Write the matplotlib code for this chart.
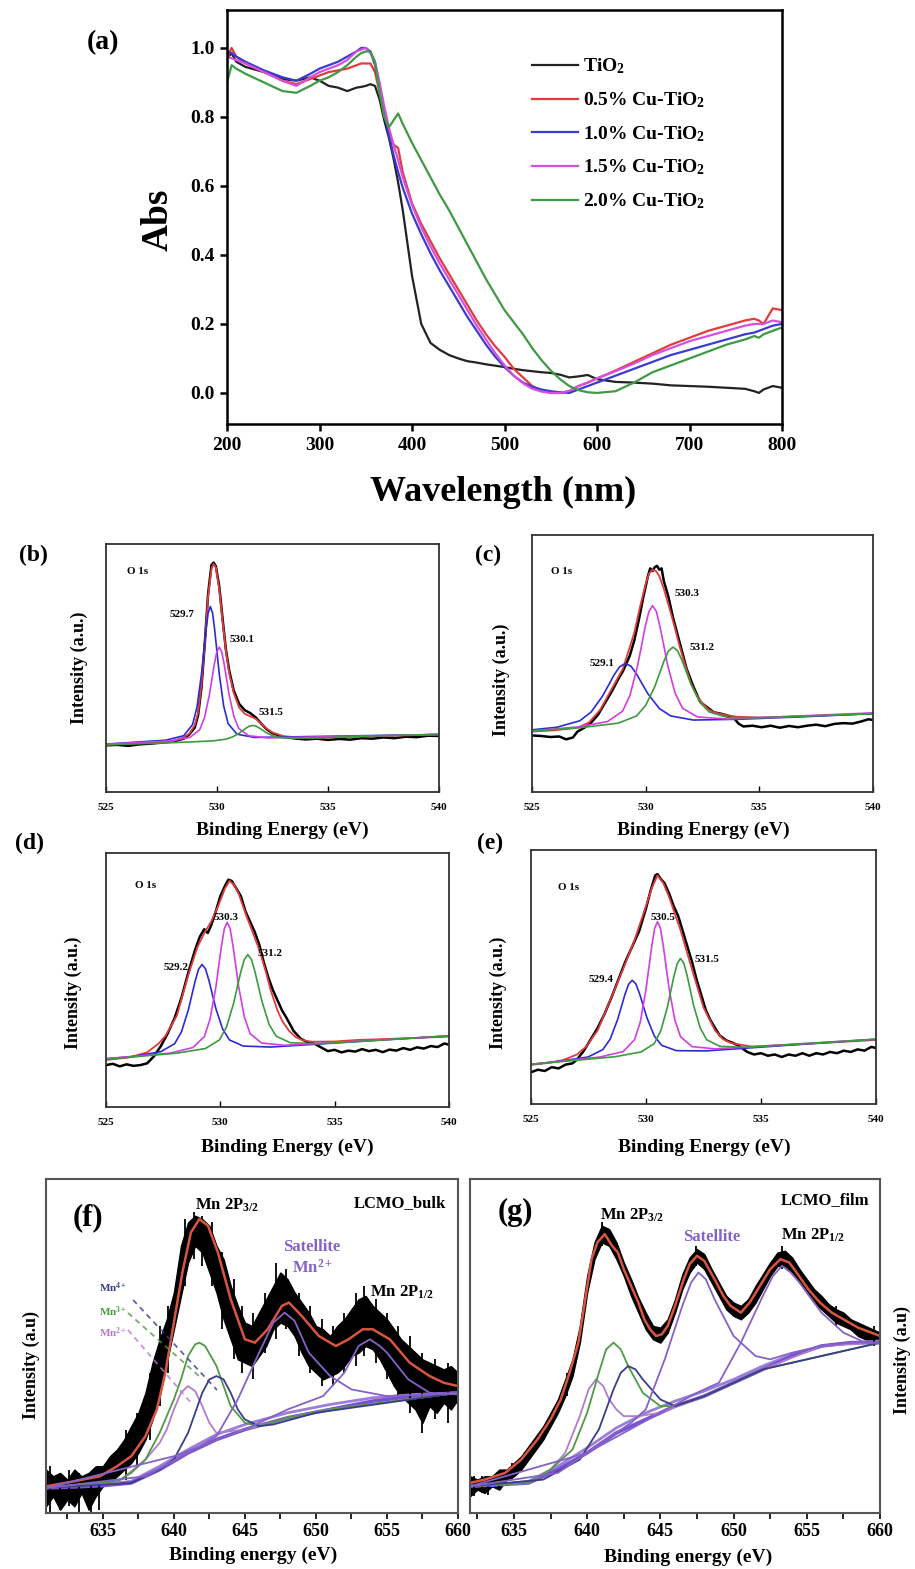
"""
Composite figure: UV-vis absorbance of Cu-TiO2 (a), O 1s XPS fits (b-e),
Mn 2p XPS fits for LCMO bulk / film (f, g). Writes out.png (915x1569).
"""
import numpy as np, matplotlib
matplotlib.use("Agg")
import matplotlib.pyplot as plt
from matplotlib.ticker import MultipleLocator, FormatStrFormatter

W, H = 915, 1569
plt.rcParams.update({
    "font.family": "Liberation Serif", "font.weight": "bold",
    "mathtext.fontset": "custom", "mathtext.rm": "Liberation Serif:bold",
    "mathtext.bf": "Liberation Serif:bold", "mathtext.it": "Liberation Serif:bold:italic",
})
RED, BLUE, MAG, GRN = "#e23b3b", "#2b2bd6", "#d23fe0", "#3d9a3d"
PURP, SAT, MN2, MN3, MN4, FRED = "#7a4fd0", "#8462c8", "#b27ccc", "#4f9a45", "#3a3d8c", "#d9553f"

# ---------------- (a) UV-vis ----------------
wl = [200, 205, 210, 220, 240, 260, 275, 290, 300, 310,
      320, 330, 340, 345, 350, 355, 360, 365, 370, 375,
      380, 385, 390, 400, 410, 420, 430, 440, 450, 460,
      470, 480, 490, 500, 510, 520, 530, 540, 550, 560,
      570, 580, 590, 600, 620, 640, 660, 680, 700, 720,
      740, 760, 770, 775, 780, 790, 800]
abs_tio2 = [.97, .985, .96, .945, .93, .91, .905, .915, .905, .89,
            .885, .875, .885, .887, .89, .895, .89, .85, .79, .74,
            .68, .61, .53, .34, .20, .145, .125, .11, .10, .092,
            .088, .083, .079, .075, .07, .066, .063, .06, .058, .053,
            .045, .048, .052, .04, .032, .03, .027, .022, .02, .018,
            .015, .012, .005, .0, .01, .02, .015]
abs_cu05 = [.97, 1.0, .975, .955, .93, .905, .895, .91, .92, .93,
            .935, .94, .95, .955, .955, .955, .93, .87, .81, .76,
            .72, .71, .64, .55, .49, .44, .39, .345, .30, .255,
            .21, .17, .135, .105, .07, .045, .02, .006, .0, .0,
            .005, .02, .03, .042, .065, .09, .115, .14, .16, .18,
            .195, .21, .215, .21, .2, .245, .24]
abs_cu10 = [.99, .985, .975, .96, .935, .915, .905, .925, .94, .95,
            .96, .975, .99, 1.0, 1.0, .99, .95, .88, .81, .75,
            .69, .64, .595, .52, .46, .405, .355, .31, .265, .22,
            .18, .14, .105, .075, .05, .03, .018, .01, .005, .002,
            .0, .01, .02, .03, .05, .07, .09, .11, .125, .14,
            .155, .17, .175, .18, .185, .195, .20]
abs_cu15 = [.975, .97, .965, .955, .93, .905, .89, .915, .93, .94,
            .95, .965, .99, .995, 1.0, .985, .96, .90, .83, .77,
            .72, .675, .625, .545, .48, .425, .375, .33, .285, .24,
            .195, .155, .115, .08, .05, .028, .012, .004, .0, .0,
            .006, .02, .03, .042, .063, .085, .11, .13, .15, .165,
            .18, .195, .20, .20, .20, .21, .205]
abs_cu20 = [.90, .95, .94, .925, .90, .875, .87, .89, .905, .915,
            .93, .95, .975, .985, .99, .99, .96, .87, .80, .77,
            .79, .81, .78, .725, .675, .625, .575, .53, .48, .43,
            .38, .33, .285, .24, .205, .17, .13, .095, .065, .04,
            .02, .008, .002, .0, .005, .03, .06, .08, .10, .12,
            .14, .155, .165, .16, .17, .18, .19]
uv_labels = ["TiO$_2$", "0.5% Cu-TiO$_2$", "1.0% Cu-TiO$_2$", "1.5% Cu-TiO$_2$", "2.0% Cu-TiO$_2$"]

# ---------------- (b)-(e) O 1s: (x, y) per curve, y in panel units ----------------
b_red_x = [525, 526, 527, 527.5, 528, 528.5, 528.75, 529, 529.15, 529.3, 529.45, 529.6, 529.75, 529.85, 529.95, 530.1,
           530.25, 530.4, 530.55, 530.75, 531, 531.25, 531.5, 531.75, 532, 532.25, 532.5, 533, 534, 536, 538, 540]
b_red_y = [.19, .195, .199, .201, .205, .22, .235, .27, .32, .43, .6, .79, .9, .92, .905, .82,
           .69, .57, .48, .40, .34, .315, .305, .295, .275, .255, .24, .225, .218, .222, .227, .232]
b_blk_x = [525, 525.5, 526, 526.5, 527, 527.5, 528, 528.5, 528.75, 529, 529.15, 529.3, 529.45, 529.6, 529.75, 529.85,
           529.95, 530.1, 530.25, 530.4, 530.55, 530.75, 531, 531.25, 531.5, 531.75, 532, 532.25, 532.5, 533, 533.5,
           534, 534.5, 535, 535.5, 536, 536.5, 537, 537.5, 538, 538.5, 539, 539.5, 540]
b_blk_y = [.188, .19, .186, .192, .195, .199, .203, .215, .232, .26, .31, .42, .6, .8, .915, .925,
           .91, .83, .70, .575, .49, .41, .355, .33, .318, .30, .275, .252, .237, .222, .216,
           .212, .215, .21, .214, .211, .217, .215, .22, .217, .223, .221, .227, .226]
b_blue_x = [525, 527.7, 528.5, 528.9, 529.1, 529.3, 529.4, 529.5, 529.6, 529.7, 529.8, 529.9, 530.0, 530.1, 530.3, 530.5, 530.9, 531.7, 540]
b_blue_y = [.193, .209, .227, .272, .343, .475, .562, .65, .721, .748, .722, .651, .564, .477, .347, .276, .233, .22, .232]
b_mag_x = [525, 527.9, 528.78, 529.22, 529.44, 529.66, 529.77, 529.88, 529.99, 530.1, 530.21, 530.32, 530.43, 530.54, 530.76, 530.98, 531.42, 532.3, 540]
b_mag_y = [.193, .206, .22, .251, .301, .393, .454, .516, .565, .584, .566, .517, .456, .395, .305, .256, .227, .218, .232]
b_grn_x = [525, 527, 528.6, 529.8, 530.4, 530.7, 531.0, 531.15, 531.3, 531.45, 531.6, 531.75, 531.9, 532.05, 532.2, 532.5, 532.8, 533.4, 534.6, 537, 540]
b_grn_y = [.19, .196, .201, .206, .213, .222, .237, .247, .257, .265, .268, .266, .258, .25, .24, .227, .22, .217, .218, .226, .232]

c_red_x = [525, 526, 527, 527.5, 528, 528.5, 529, 529.5, 529.75, 530, 530.15, 530.3, 530.45, 530.6, 530.8, 531, 531.25,
           531.5, 531.75, 532, 532.25, 532.5, 532.75, 533, 533.5, 534, 535, 537, 540]
c_red_y = [.235, .24, .25, .27, .32, .40, .48, .62, .72, .81, .85, .865, .86, .84, .79, .73, .65,
           .565, .49, .42, .375, .345, .322, .31, .30, .293, .29, .295, .305]
c_blk_x = [525, 525.4, 525.8, 526.2, 526.5, 526.8, 527.0, 527.3, 527.6, 527.9, 528.2, 528.5, 528.8, 529.0, 529.3, 529.5,
           529.7, 529.9, 530.1, 530.2, 530.3, 530.4, 530.5, 530.6, 530.7, 530.8, 531.0, 531.2, 531.5, 531.8, 532.1, 532.4,
           532.7, 533.0, 533.3, 533.6, 533.9, 534.1, 534.3, 534.7, 535.1, 535.5, 535.9, 536.3, 536.7, 537.1, 537.5, 537.9,
           538.3, 538.7, 539.1, 539.5, 539.8, 540]
c_blk_y = [.22, .218, .214, .216, .205, .212, .235, .25, .27, .30, .345, .39, .44, .47, .53, .59,
           .67, .76, .84, .87, .86, .875, .88, .865, .87, .82, .76, .68, .58, .48, .41, .35,
           .33, .31, .305, .298, .285, .265, .255, .258, .252, .258, .25, .257, .252, .258, .262, .256,
           .265, .268, .266, .275, .283, .28]
c_blue_x = [525, 526.1, 527.1, 527.6, 528.1, 528.35, 528.6, 528.85, 529.1, 529.35, 529.6, 529.85, 530.1, 530.6, 531.1, 532.1, 534.1, 537, 540]
c_blue_y = [.242, .252, .277, .311, .373, .413, .454, .487, .50, .49, .459, .42, .382, .325, .296, .28, .283, .293, .305]
c_mag_x = [525, 527.0, 528.32, 528.98, 529.31, 529.64, 529.81, 529.97, 530.14, 530.3, 530.47, 530.63, 530.8, 530.96, 531.29, 531.62, 532.28, 533.6, 540]
c_mag_y = [.238, .253, .274, .314, .376, .49, .565, .64, .701, .725, .703, .643, .569, .496, .386, .326, .292, .284, .308]
c_grn_x = [525, 527.2, 528.8, 529.6, 530.0, 530.4, 530.6, 530.8, 531.0, 531.2, 531.4, 531.6, 531.8, 532.0, 532.4, 532.8, 533.6, 535.2, 540]
c_grn_y = [.237, .251, .268, .296, .337, .41, .459, .508, .548, .564, .55, .512, .465, .418, .348, .311, .29, .289, .305]

d_red_x = [525, 526, 526.8, 527.3, 527.6, 528.1, 528.6, 529.0, 529.3, 529.6, 529.9, 530.2, 530.4, 530.6, 530.8, 531.15,
           531.45, 531.7, 532.0, 532.2, 532.5, 532.7, 533.0, 533.3, 533.6, 534, 535, 536, 538, 540]
d_red_y = [.185, .195, .215, .25, .28, .36, .52, .63, .685, .73, .79, .86, .89, .875, .84, .75,
           .68, .62, .53, .46, .38, .34, .30, .275, .263, .257, .258, .264, .27, .277]
d_blk_x = [525, 525.3, 525.6, 525.9, 526.2, 526.5, 526.8, 527.1, 527.4, 527.7, 528.0, 528.3, 528.6, 528.9, 529.1, 529.3,
           529.45, 529.6, 529.8, 530.0, 530.2, 530.35, 530.5, 530.7, 530.9, 531.1, 531.3, 531.5, 531.7, 531.9, 532.1, 532.3,
           532.5, 532.7, 532.9, 533.2, 533.5, 533.8, 534.1, 534.4, 534.7, 535.0, 535.3, 535.6, 535.9, 536.2, 536.5, 536.8,
           537.1, 537.4, 537.7, 538.0, 538.3, 538.6, 538.9, 539.2, 539.5, 539.8, 540]
d_blk_y = [.165, .17, .16, .168, .162, .165, .172, .2, .24, .29, .35, .43, .53, .62, .67, .70,
           .685, .715, .77, .83, .87, .895, .89, .86, .83, .77, .73, .69, .64, .57, .51, .46,
           .42, .38, .35, .30, .27, .255, .25, .235, .22, .225, .215, .222, .218, .228, .22, .225,
           .216, .226, .222, .232, .225, .235, .23, .24, .236, .25, .245]
d_blue_x = [525, 526.2, 527.4, 528.0, 528.3, 528.6, 528.75, 528.9, 529.05, 529.2, 529.35, 529.5, 529.65, 529.8, 530.1, 530.4, 531.0, 532.2, 540]
d_blue_y = [.19, .199, .218, .249, .296, .382, .439, .496, .543, .561, .544, .499, .444, .389, .307, .264, .24, .236, .28]
d_mag_x = [525, 527.8, 528.8, 529.3, 529.55, 529.8, 529.925, 530.05, 530.175, 530.3, 530.425, 530.55, 530.675, 530.8, 531.05, 531.3, 531.8, 532.8, 540]
d_mag_y = [.19, .212, .234, .277, .346, .469, .552, .634, .702, .727, .703, .637, .557, .475, .355, .289, .252, .243, .28]
d_grn_x = [525, 528.1, 529.34, 529.96, 530.27, 530.58, 530.735, 530.89, 531.045, 531.2, 531.355, 531.51, 531.665, 531.82, 532.13, 532.44, 533.06, 534.3, 540]
d_grn_y = [.188, .212, .23, .264, .315, .408, .469, .53, .58, .60, .582, .534, .475, .416, .326, .279, .253, .249, .28]

e_red_x = [525, 525.8, 526.4, 527.0, 527.4, 527.9, 528.4, 529.0, 529.5, 530.0, 530.25, 530.5, 530.75, 531.0, 531.5, 532.0,
           532.5, 533.0, 533.35, 533.7, 534.6, 536, 538, 540]
e_red_y = [.154, .162, .173, .195, .226, .29, .40, .53, .645, .78, .85, .90, .87, .816, .685, .53,
           .38, .29, .255, .24, .226, .232, .242, .252]
e_blk_x = [525, 525.3, 525.6, 525.9, 526.2, 526.5, 526.8, 527.0, 527.3, 527.6, 527.9, 528.2, 528.5, 528.8, 529.1, 529.4,
           529.7, 530.0, 530.2, 530.4, 530.5, 530.65, 530.8, 531.0, 531.2, 531.4, 531.6, 531.8, 532.0, 532.2, 532.4, 532.6,
           532.8, 533.0, 533.2, 533.5, 533.8, 534.1, 534.4, 534.7, 535.0, 535.3, 535.6, 535.9, 536.2, 536.5, 536.8, 537.1,
           537.4, 537.7, 538.0, 538.3, 538.6, 538.9, 539.2, 539.5, 539.8, 540]
e_blk_y = [.125, .135, .13, .145, .14, .155, .16, .175, .21, .255, .30, .355, .42, .49, .56, .62,
           .68, .77, .84, .90, .905, .885, .87, .83, .78, .74, .68, .62, .56, .49, .43, .37,
           .33, .30, .27, .25, .24, .225, .205, .195, .20, .19, .195, .185, .195, .19, .20, .19,
           .20, .195, .205, .20, .21, .205, .215, .21, .225, .22]
e_blue_x = [525, 526.2, 527.48, 528.12, 528.44, 528.76, 528.92, 529.08, 529.24, 529.4, 529.56, 529.72, 529.88, 530.04, 530.36, 530.68, 531.32, 532.6, 540]
e_blue_y = [.156, .168, .185, .214, .255, .331, .38, .43, .471, .487, .473, .434, .387, .34, .268, .231, .21, .209, .255]
e_mag_x = [525, 528.0, 529.0, 529.5, 529.75, 530.0, 530.125, 530.25, 530.375, 530.5, 530.625, 530.75, 530.875, 531.0, 531.25, 531.5, 532.0, 533.0, 540]
e_mag_y = [.156, .185, .206, .253, .322, .451, .536, .621, .691, .718, .693, .624, .54, .457, .332, .265, .226, .217, .255]
e_grn_x = [525, 528.65, 529.79, 530.36, 530.645, 530.93, 531.07, 531.215, 531.36, 531.5, 531.64, 531.785, 531.93, 532.07, 532.355, 532.64, 533.21, 534.35, 540]
e_grn_y = [.156, .186, .205, .238, .289, .381, .442, .503, .553, .573, .555, .507, .447, .388, .30, .253, .227, .223, .255]

# ---------------- (f) Mn 2p, LCMO bulk ----------------
f_band_x = np.arange(631, 660.5, 0.5)
f_lo = [.02, .05, .01, .04, .02, .06, .01, .05, .08, .09,
        .11, .13, .15, .18, .22, .28, .35, .45, .55, .65,
        .75, .80, .78, .72, .66, .58, .52, .46, .45, .44,
        .47, .50, .55, .57, .56, .53, .48, .44, .42, .40,
        .41, .42, .44, .47, .48, .50, .49, .46, .42, .38,
        .35, .33, .31, .27, .32, .30, .33, .31, .34]
f_hi = [.13, .11, .12, .10, .13, .11, .12, .14, .14, .17,
        .19, .22, .26, .30, .36, .45, .52, .58, .66, .80,
        .87, .89, .88, .86, .80, .76, .68, .62, .57, .56,
        .60, .64, .68, .72, .70, .66, .63, .60, .56, .55,
        .53, .56, .58, .61, .64, .65, .62, .60, .58, .55,
        .52, .50, .48, .46, .45, .44, .43, .44, .42]
# noise spikes on top of the band: x, low end, high end
f_spk_x = [631.3, 632.0, 632.6, 633.3, 634.2, 634.7, 636.6, 637.4, 638.3, 639.0, 639.6, 640.8, 641.4, 642.0, 642.7,
           643.4, 644.2, 644.8, 645.6, 646.4, 647.2, 647.9, 648.8, 649.6, 650.4, 651.2, 652.0, 652.8, 653.4, 654.2,
           655.0, 655.8, 656.6, 657.5, 658.4, 659.3]
f_spk_lo = [.0, .01, .02, .0, .0, .01, .10, .14, .22, .32, .42, .68, .76, .74, .68,
            .55, .46, .42, .40, .48, .52, .55, .47, .42, .38, .38, .42, .44, .47, .45,
            .40, .35, .30, .24, .28, .27]
f_spk_hi = [.14, .12, .13, .12, .11, .13, .25, .30, .42, .56, .62, .88, .90, .89, .87,
            .78, .70, .62, .60, .66, .75, .73, .66, .62, .58, .56, .60, .66, .68, .64,
            .60, .56, .53, .48, .46, .45]
f_red_x = [631, 633, 634.8, 636, 637, 638, 638.8, 639.4, 640, 640.6, 641.2, 641.8, 642.4, 643.1, 644.0, 645.0,
           645.7, 646.6, 647.6, 648.1, 649.0, 650.2, 651.4, 652.3, 653.3, 654.0, 655.2, 656.6, 658.0, 659.0, 660]
f_red_y = [.08, .095, .11, .14, .17, .23, .31, .42, .57, .72, .84, .88, .86, .78, .64, .52,
           .51, .55, .62, .63, .59, .53, .50, .52, .55, .55, .52, .45, .41, .39, .38]
f_bg_x = [631, 633, 635, 637, 639, 641, 643, 645, 648, 651, 654, 657, 660]
f_bg1_y = [.075, .078, .082, .09, .13, .18, .22, .25, .285, .31, .335, .35, .36]
f_bg2_y = [.078, .08, .085, .095, .14, .19, .235, .265, .30, .325, .345, .355, .36]
f_mn2_x = [631, 636, 638, 639, 639.5, 640, 640.5, 641, 641.5, 642, 642.5, 643, 644, 645, 648, 651, 660]
f_mn2_y = [.075, .09, .16, .21, .25, .31, .36, .38, .365, .32, .27, .24, .245, .25, .285, .31, .36]
f_mn3_x = [631, 636, 637, 638, 639, 640, 640.5, 641, 641.5, 641.8, 642.2, 642.6, 643, 643.5, 644, 645, 646, 648, 651, 660]
f_mn3_y = [.076, .095, .12, .16, .24, .34, .40, .47, .505, .51, .50, .47, .44, .38, .32, .27, .26, .285, .31, .36]
f_mn4_x = [631, 637, 639, 640, 641, 641.5, 642, 642.5, 643, 643.5, 644, 644.5, 645, 646, 647, 650, 660]
f_mn4_y = [.075, .09, .13, .16, .24, .30, .36, .40, .41, .40, .36, .31, .28, .26, .265, .30, .36]
f_sat_x = [631, 638, 641, 643, 644.5, 646, 647, 647.8, 648.5, 649.5, 651, 652.5, 655, 658, 660]
f_sat_y = [.075, .11, .18, .23, .34, .48, .57, .60, .575, .48, .41, .37, .35, .355, .36]
f_p12_x = [631, 640, 645, 648, 650.5, 652, 653, 653.8, 654.5, 655, 656.5, 658, 660]
f_p12_y = [.075, .17, .25, .31, .35, .42, .50, .52, .50, .48, .40, .36, .355]
f_guide_x = [[637.13, 643.04], [636.77, 641.85], [636.77, 641.35]]
f_guide_y = [[.638, .368], [.599, .407], [.548, .323]]

# ---------------- (g) Mn 2p, LCMO film ----------------
g_band_x = np.arange(632, 660.5, 0.5)
g_lo = [.05, .07, .06, .08, .07, .10, .11, .13, .16, .19,
        .22, .26, .30, .35, .41, .51, .66, .76, .81, .80,
        .76, .71, .65, .60, .55, .52, .51, .54, .60, .67,
        .72, .75, .73, .69, .65, .61, .59, .58, .60, .63,
        .67, .71, .74, .74, .72, .69, .66, .63, .61, .59,
        .57, .56, .55, .53, .52, .51, .51]
g_hi = [.11, .10, .11, .11, .13, .13, .15, .17, .20, .23,
        .26, .30, .34, .40, .46, .56, .71, .81, .86, .85,
        .81, .75, .70, .645, .60, .56, .555, .58, .64, .715,
        .765, .79, .775, .73, .69, .65, .63, .62, .64, .68,
        .715, .75, .78, .785, .765, .73, .70, .67, .65, .625,
        .61, .60, .58, .57, .56, .55, .54]
g_spk_x = [632.3, 632.8, 633.2, 634.0, 634.9, 638.6, 641.0, 647.4, 653.3, 657.0, 659.6]
g_spk_lo = [.05, .06, .055, .07, .10, .35, .80, .74, .73, .56, .50]
g_spk_hi = [.11, .11, .10, .12, .15, .42, .87, .80, .80, .62, .56]
g_red_x = [632, 633, 634.4, 635.5, 636.6, 637.5, 638.2, 638.8, 639.4, 639.8, 640.3, 640.7, 641.2, 641.7, 642.1, 642.5,
           643.0, 643.5, 643.9, 644.3, 644.7, 645.1, 645.5, 646.0, 646.6, 647.0, 647.5, 648.0, 648.7, 649.3, 649.8,
           650.5, 651.1, 651.8, 652.5, 653.2, 653.8, 654.3, 655.1, 655.9, 656.7, 657.5, 658.5, 660]
g_red_y = [.09, .10, .12, .16, .22, .28, .34, .42, .51, .62, .76, .81, .835, .80, .78, .73,
           .68, .63, .58, .55, .53, .535, .56, .62, .70, .745, .77, .755, .70, .65, .62,
           .60, .63, .68, .73, .76, .75, .72, .67, .63, .60, .58, .555, .53]
g_bg_x = [632, 634, 636, 638, 640, 642, 644, 646, 648, 650, 652, 654, 656, 658, 660]
g_bg1_y = [.08, .085, .09, .13, .18, .24, .28, .32, .35, .39, .43, .47, .50, .51, .51]
g_bg2_y = [.08, .085, .095, .14, .195, .255, .30, .335, .365, .40, .44, .475, .50, .51, .515]
g_mn2_x = [632, 636, 637.5, 638.5, 639.5, 640.1, 640.6, 641.1, 641.5, 642, 642.5, 643.5, 645, 648, 652, 656, 660]
g_mn2_y = [.08, .09, .13, .18, .29, .37, .40, .38, .34, .31, .29, .29, .30, .35, .43, .50, .51]
g_mn3_x = [632, 636, 637.5, 639, 640, 640.8, 641.3, 641.8, 642.3, 642.8, 643.8, 645, 646, 648, 652, 660]
g_mn3_y = [.08, .09, .13, .19, .30, .42, .49, .51, .49, .44, .36, .32, .32, .35, .43, .51]
g_mn4_x = [632, 637, 639.5, 640.8, 641.8, 642.3, 642.8, 643.3, 643.8, 645, 646, 648, 652, 660]
g_mn4_y = [.08, .10, .16, .25, .37, .42, .44, .43, .40, .34, .32, .35, .43, .51]
g_sat_x = [632, 638, 641, 643, 644, 645.3, 646.5, 647.1, 647.6, 648.1, 648.7, 650, 651.5, 652.5, 654, 656, 658, 660]
g_sat_y = [.08, .12, .21, .27, .31, .46, .62, .69, .72, .70, .64, .53, .47, .46, .48, .50, .51, .51]
g_p12_x = [632, 640, 645, 647.5, 649, 650.5, 652, 652.7, 653.3, 653.9, 654.5, 656, 657.5, 659, 660]
g_p12_y = [.08, .18, .30, .36, .39, .51, .65, .71, .74, .72, .69, .60, .54, .51, .51]


def box(l, t, r, b):
    return [l / W, 1 - b / H, (r - l) / W, (b - t) / H]

def txt(x, y, s, size, **kw):
    kw.setdefault("ha", "center"); kw.setdefault("va", "center")
    fig.text(x / W, 1 - y / H, s, fontsize=size, fontweight="bold", **kw)

fig = plt.figure(figsize=(W / 100, H / 100), dpi=100)

# --- (a) ---
ax = fig.add_axes(box(227, 10, 782, 424))
for ys, c, lab in zip([abs_tio2, abs_cu05, abs_cu10, abs_cu15, abs_cu20],
                      ["#222222", RED, "#3b3bd0", "#d64fe0", "#3e9a45"], uv_labels):
    ax.plot(wl, ys, color=c, lw=1.6, label=lab)
ax.set_xlim(200, 800); ax.set_ylim(-0.09, 1.11)
ax.set_xticks(range(200, 801, 100)); ax.set_yticks([0, .2, .4, .6, .8, 1.0])
ax.yaxis.set_major_formatter(FormatStrFormatter("%.1f"))
ax.tick_params(direction="out", length=5, width=1.8, labelsize=14, pad=4)
for s in ax.spines.values():
    s.set_linewidth(1.8)
ax.legend(loc="upper left", bbox_to_anchor=(0.535, 0.906), frameon=False, fontsize=14,
          handlelength=2.4, handletextpad=0.25, labelspacing=0.72, borderpad=0.4, borderaxespad=0)
txt(103, 43, "(a)", 20)
txt(158, 220, "Abs", 27, rotation=90)
txt(503, 492, "Wavelength (nm)", 26)

# --- (b)-(e) O 1s ---
o1s = [
    ((106, 544, 439, 792), b_blk_x, b_blk_y, b_red_x, b_red_y, b_blue_x, b_blue_y, b_mag_x, b_mag_y, b_grn_x, b_grn_y),
    ((532, 535, 873, 792), c_blk_x, c_blk_y, c_red_x, c_red_y, c_blue_x, c_blue_y, c_mag_x, c_mag_y, c_grn_x, c_grn_y),
    ((106, 853, 449, 1107), d_blk_x, d_blk_y, d_red_x, d_red_y, d_blue_x, d_blue_y, d_mag_x, d_mag_y, d_grn_x, d_grn_y),
    ((531, 850, 876, 1104), e_blk_x, e_blk_y, e_red_x, e_red_y, e_blue_x, e_blue_y, e_mag_x, e_mag_y, e_grn_x, e_grn_y),
]
for rect, bx, by, rx, ry, ux, uy, mx, my, gx, gy in o1s:
    ax = fig.add_axes(box(*rect))
    ax.plot(bx, by, color="black", lw=1.8)
    ax.plot(rx, ry, color=RED, lw=1.3)
    ax.plot(ux, uy, color=BLUE, lw=1.2)
    ax.plot(mx, my, color=MAG, lw=1.2)
    ax.plot(gx, gy, color=GRN, lw=1.2)
    ax.set_xlim(525, 540); ax.set_ylim(0, 1)
    ax.set_xticks([525, 530, 535, 540]); ax.set_yticks([])
    ax.tick_params(direction="in", length=4, width=1, labelsize=8, pad=8)
    for s in ax.spines.values():
        s.set_linewidth(1.3); s.set_color("#333333")

for tag, (x, y) in zip("bcde", [(33, 555), (488, 555), (29, 843), (490, 843)]):
    txt(x, y, f"({tag})", 17)
for x, y in [(282, 830), (703, 830), (287, 1147), (704, 1147)]:
    txt(x, y, "Binding Energy (eV)", 14)
for x, y in [(79, 668), (501, 680), (73, 993), (498, 993)]:
    txt(x, y, "Intensity (a.u.)", 13, rotation=90)
for x, y in [(138, 571), (562, 571), (146, 885), (569, 887)]:
    txt(x, y, "O 1s", 8)
for x, y, s in [(182, 614, "529.7"), (242, 640, "530.1"), (271, 713, "531.5"),
                (602, 664, "529.1"), (687, 594, "530.3"), (702, 647, "531.2"),
                (176, 967, "529.2"), (226, 918, "530.3"), (270, 953, "531.2"),
                (601, 980, "529.4"), (663, 918, "530.5"), (707, 959, "531.5")]:
    txt(x, y, s, 8)

# --- (f), (g) Mn 2p ---
mn = [
    ((46, 1179, 458, 1513), (631, 660), f_band_x, f_lo, f_hi, f_spk_x, f_spk_lo, f_spk_hi,
     f_red_x, f_red_y, f_bg_x, f_bg1_y, f_bg2_y,
     [(f_mn2_x, f_mn2_y, MN2), (f_mn3_x, f_mn3_y, MN3), (f_mn4_x, f_mn4_y, MN4), (f_sat_x, f_sat_y, SAT), (f_p12_x, f_p12_y, SAT)]),
    ((470, 1179, 880, 1513), (632, 660), g_band_x, g_lo, g_hi, g_spk_x, g_spk_lo, g_spk_hi,
     g_red_x, g_red_y, g_bg_x, g_bg1_y, g_bg2_y,
     [(g_mn2_x, g_mn2_y, MN2), (g_mn3_x, g_mn3_y, MN3), (g_mn4_x, g_mn4_y, MN4), (g_sat_x, g_sat_y, SAT), (g_p12_x, g_p12_y, SAT)]),
]
axes_mn = []
for rect, xl, nx, lo, hi, sx, slo, shi, rx, ry, bgx, bg1, bg2, comps in mn:
    ax = fig.add_axes(box(*rect))
    ax.plot(bgx, bg2, color="#9a7fd8", lw=2.0)
    ax.plot(bgx, bg1, color=PURP, lw=2.6)
    ax.fill_between(nx, lo, hi, color="black", lw=1.0, edgecolor="black")
    ax.vlines(sx, slo, shi, color="black", lw=1.3)
    ax.plot(rx, ry, color=FRED, lw=1.8)
    for cx, cy, col in comps:
        ax.plot(cx, cy, color=col, lw=1.3)
    ax.set_xlim(*xl); ax.set_ylim(0, 1)
    ax.set_xticks(range(635, 661, 5)); ax.set_yticks([])
    ax.xaxis.set_minor_locator(MultipleLocator(2.5))
    ax.tick_params(axis="x", which="both", direction="out", length=4, width=1.2, labelsize=13, pad=3)
    for s in ax.spines.values():
        s.set_linewidth(1.5); s.set_color("#555555")
    axes_mn.append(ax)

for gx_, gy_, col in zip(f_guide_x, f_guide_y, [MN4, MN3, MN2]):
    axes_mn[0].plot(gx_, gy_, color=col, lw=1.3, ls=(0, (3, 2.5)), alpha=0.8)

txt(88, 1218, "(f)", 22); txt(515, 1212, "(g)", 22)
txt(227, 1205, "Mn 2P$_{3/2}$", 12); txt(400, 1203, "LCMO_bulk", 12)
txt(312, 1247, "Satellite", 12, color=SAT); txt(312, 1268, "Mn$^{2+}$", 12, color=SAT)
txt(402, 1292, "Mn 2P$_{1/2}$", 12)
txt(113, 1288, "Mn$^{4+}$", 8, color=MN4); txt(113, 1312, "Mn$^{3+}$", 8, color=MN3)
txt(113, 1333, "Mn$^{2+}$", 8, color=MN2)
txt(632, 1215, "Mn 2P$_{3/2}$", 12); txt(712, 1237, "Satellite", 12, color=SAT)
txt(813, 1235, "Mn 2P$_{1/2}$", 12); txt(825, 1200, "LCMO_film", 12)
txt(253, 1555, "Binding energy (eV)", 14); txt(688, 1557, "Binding energy (eV)", 14)
txt(31, 1365, "Intensity (a.u)", 13, rotation=90); txt(902, 1360, "Intensity (a.u)", 13, rotation=90)

fig.savefig("out.png", dpi=100)
